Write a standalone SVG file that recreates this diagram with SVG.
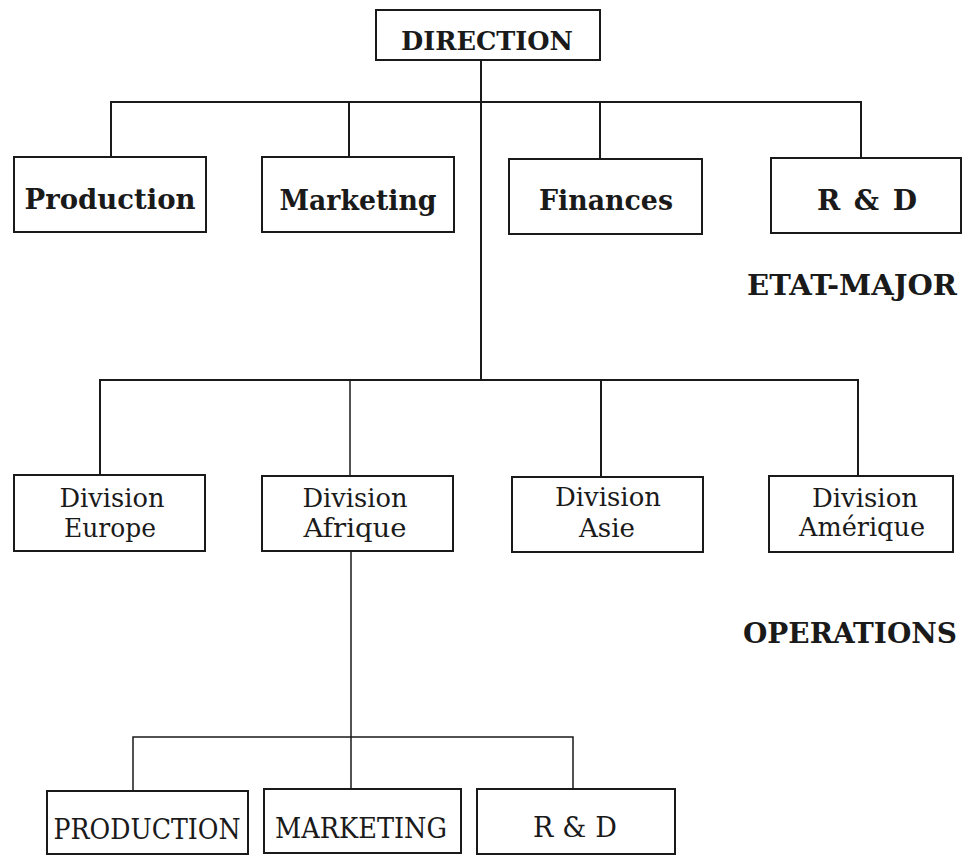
<svg xmlns="http://www.w3.org/2000/svg" width="963" height="858" viewBox="0 0 963 858">
  <style>
    .box { fill: #ffffff; stroke: #1a1a1a; stroke-width: 2; }
    .wire { fill: none; stroke: #1a1a1a; stroke-width: 2; }
    .wire-thin { fill: none; stroke: #1a1a1a; stroke-width: 1.5; }
    .t { font-family: "DejaVu Serif", "Liberation Serif", serif; fill: #1a1a1a; text-anchor: middle; }
    .bold { font-weight: bold; }
    .big { font-size: 28px; }
    .mid { font-size: 26px; }
    .caps { font-size: 27px; }
    .lbl { font-family: "DejaVu Serif", "Liberation Serif", serif; font-weight: bold; font-size: 27px; fill: #1a1a1a; }
  </style>

  <rect width="963" height="858" fill="#ffffff"/>

  <!-- connectors -->
  <g id="connectors">
    <!-- direction to staff -->
    <path class="wire" d="M481 60 V380"/>
    <path class="wire" d="M111 158 V102 H861 V158"/>
    <path class="wire" d="M349 102 V158"/>
    <path class="wire" d="M600 102 V159"/>
    <!-- direction to divisions -->
    <path class="wire" d="M100 476 V380 H858 V476"/>
    <path class="wire-thin" d="M350 380 V476"/>
    <path class="wire" d="M601 380 V477"/>
    <!-- Afrique to its services -->
    <path class="wire-thin" d="M351 551 V790"/>
    <path class="wire-thin" d="M133 791 V737 H573 V789"/>
  </g>

  <!-- head -->
  <g id="direction">
    <rect class="box" x="376" y="10" width="224" height="50"/>
    <text class="t bold" x="487" y="50" font-size="26" textLength="172" lengthAdjust="spacingAndGlyphs">DIRECTION</text>
  </g>

  <!-- staff -->
  <g id="production">
    <rect class="box" x="14" y="157" width="192" height="75"/>
    <text class="t bold big" x="110" y="209" textLength="171" lengthAdjust="spacingAndGlyphs">Production</text>
  </g>
  <g id="marketing">
    <rect class="box" x="262" y="157" width="192" height="75"/>
    <text class="t bold big" x="358" y="210" textLength="157" lengthAdjust="spacingAndGlyphs">Marketing</text>
  </g>
  <g id="finances">
    <rect class="box" x="509" y="159" width="193" height="75"/>
    <text class="t bold big" x="606" y="210" textLength="134" lengthAdjust="spacingAndGlyphs">Finances</text>
  </g>
  <g id="rd">
    <rect class="box" x="771" y="158" width="190" height="75"/>
    <text class="t bold big" x="867" y="210" textLength="100" lengthAdjust="spacing">R &amp; D</text>
  </g>

  <text id="etat-major" class="lbl" x="747" y="295" textLength="210" lengthAdjust="spacingAndGlyphs">ETAT-MAJOR</text>

  <!-- operating divisions -->
  <g id="div-europe">
    <rect class="box" x="14" y="475" width="191" height="76"/>
    <text class="t mid" x="112" y="507" textLength="105" lengthAdjust="spacingAndGlyphs">Division</text>
    <text class="t mid" x="110" y="537" textLength="92" lengthAdjust="spacingAndGlyphs">Europe</text>
  </g>
  <g id="div-afrique">
    <rect class="box" x="262" y="476" width="191" height="75"/>
    <text class="t mid" x="355" y="507" textLength="105" lengthAdjust="spacingAndGlyphs">Division</text>
    <text class="t mid" x="355" y="537" textLength="103" lengthAdjust="spacingAndGlyphs">Afrique</text>
  </g>
  <g id="div-asie">
    <rect class="box" x="512" y="477" width="191" height="75"/>
    <text class="t mid" x="608" y="506" textLength="106" lengthAdjust="spacingAndGlyphs">Division</text>
    <text class="t mid" x="607" y="537" textLength="56" lengthAdjust="spacingAndGlyphs">Asie</text>
  </g>
  <g id="div-amerique">
    <rect class="box" x="769" y="476" width="184" height="76"/>
    <text class="t mid" x="865" y="507" textLength="106" lengthAdjust="spacingAndGlyphs">Division</text>
    <text class="t mid" x="862" y="536" textLength="126" lengthAdjust="spacingAndGlyphs">Amérique</text>
  </g>

  <text id="operations" class="lbl" x="743" y="643" textLength="214" lengthAdjust="spacingAndGlyphs">OPERATIONS</text>

  <!-- Afrique services -->
  <g id="afr-production">
    <rect class="box" x="47" y="791" width="201" height="63" stroke-width="1.6"/>
    <text class="t caps" x="147" y="839" textLength="187" lengthAdjust="spacingAndGlyphs">PRODUCTION</text>
  </g>
  <g id="afr-marketing">
    <rect class="box" x="264" y="789" width="197" height="64" stroke-width="1.6"/>
    <text class="t caps" x="361" y="838" textLength="172" lengthAdjust="spacingAndGlyphs">MARKETING</text>
  </g>
  <g id="afr-rd">
    <rect class="box" x="477" y="789" width="198" height="65" stroke-width="1.6"/>
    <text class="t caps" x="575" y="837" textLength="84" lengthAdjust="spacing">R &amp; D</text>
  </g>
</svg>
